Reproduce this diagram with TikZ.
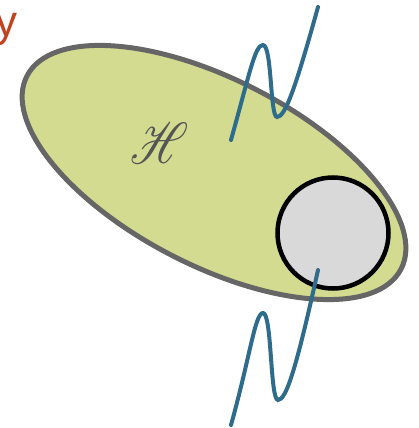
\documentclass[tikz,border=0pt]{standalone}
\usepackage{fontspec}
\usepackage{mathrsfs}
\usetikzlibrary{shapes.geometric}
\newfontfamily\labelsans{Liberation Sans}
\definecolor{hfill}{RGB}{211,219,145}
\definecolor{hborder}{RGB}{102,102,102}
\definecolor{cfill}{RGB}{217,217,217}
\definecolor{wave}{RGB}{47,108,140}
\definecolor{ylabel}{RGB}{192,67,31}
\definecolor{htext}{RGB}{85,85,85}
\tikzset{
  space/.style={ellipse, draw=hborder, fill=hfill, line width=5pt, inner sep=0pt},
  port/.style={circle, draw=black, fill=cfill, line width=4.5pt, inner sep=0pt},
  wavy/.style={draw=wave, line width=4pt, line cap=round}
}
\begin{document}
\begin{tikzpicture}[x=1pt,y=-1pt]
\useasboundingbox (0,0) rectangle (418,428);
\begin{scope}
\clip (0,0) rectangle (418,428);
\node[anchor=base east, text=ylabel, font=\labelsans\fontsize{44}{44}\selectfont, inner sep=0pt] (ylab) at (18,37) {y};
\end{scope}
\node[space, minimum width=421pt, minimum height=186pt, rotate=-27.3] (H) at (214,172.5) {};
\node[text=htext, inner sep=0pt] (Hlab) at (160,143.5) {\scalebox{4.6}[5.8]{$\mathscr{H}$}};
\draw[wavy] (231,140) .. controls (250,72) and (255,45) .. (263,45) .. controls (272,45) and (270,117) .. (277,117) .. controls (285,117) and (295,90) .. (318,7);
\node[port, minimum size=111pt] (c) at (333,233) {};
\draw[wavy] (231,425) .. controls (250,357) and (255,313) .. (263,313) .. controls (272,313) and (270,400) .. (278,400) .. controls (286,400) and (296,370) .. (318,270);
\end{tikzpicture}
\end{document}
